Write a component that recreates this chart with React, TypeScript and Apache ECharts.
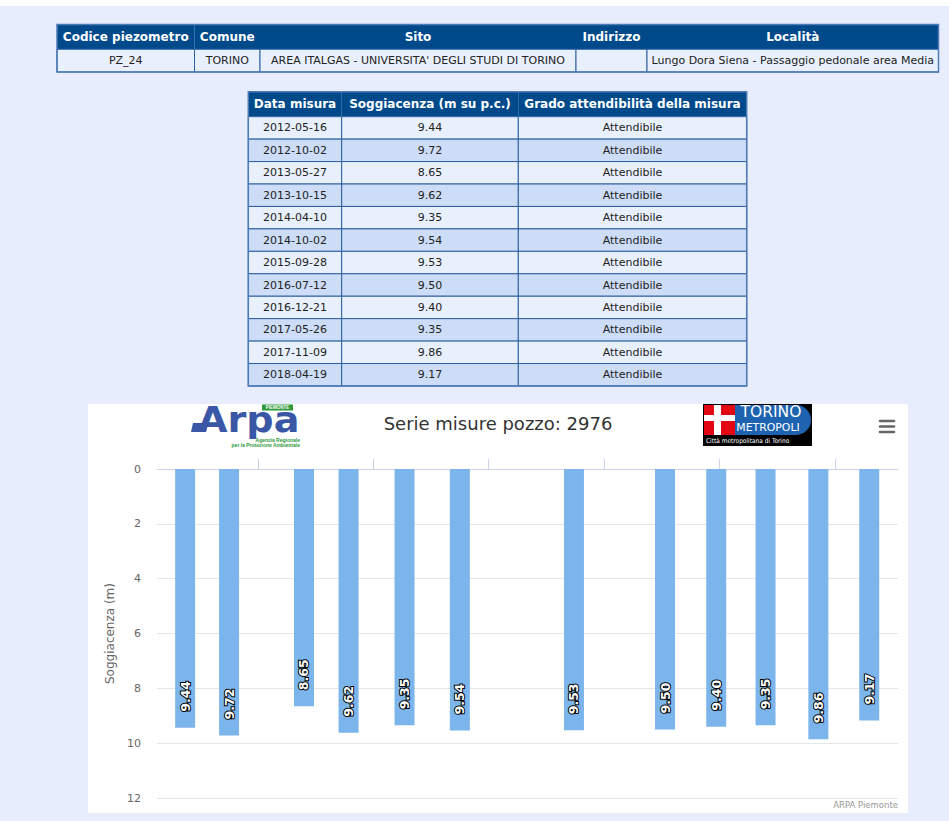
import React, { useEffect, useRef } from "react";
import * as echarts from "echarts";

// ---------- data ----------
const siteHeaders = ["Codice piezometro", "Comune", "Sito", "Indirizzo", "Località"];
const siteRow = ["PZ_24", "TORINO", "AREA ITALGAS - UNIVERSITA' DEGLI STUDI DI TORINO", "", "Lungo Dora Siena - Passaggio pedonale area Media"];

const measureHeaders = ["Data misura", "Soggiacenza (m su p.c.)", "Grado attendibilità della misura"];
const measureDates = [
  "2012-05-16", "2012-10-02", "2013-05-27", "2013-10-15", "2014-04-10", "2014-10-02",
  "2015-09-28", "2016-07-12", "2016-12-21", "2017-05-26", "2017-11-09", "2018-04-19",
];
const depths = [9.44, 9.72, 8.65, 9.62, 9.35, 9.54, 9.53, 9.5, 9.4, 9.35, 9.86, 9.17];
const reliability = [
  "Attendibile", "Attendibile", "Attendibile", "Attendibile", "Attendibile", "Attendibile",
  "Attendibile", "Attendibile", "Attendibile", "Attendibile", "Attendibile", "Attendibile",
];
const yearTicks = ["2013-01-01", "2014-01-01", "2015-01-01", "2016-01-01", "2017-01-01", "2018-01-01"];
const axisStart = "2012-02-17";
const axisEnd = "2018-07-19";
const chartTitle = "Serie misure pozzo: 2976";
const yAxisTitle = "Soggiacenza (m)";
const credits = "ARPA Piemonte";

// ---------- helpers ----------
function utc(s: string) {
  const [y, m, d] = s.split("-").map(Number);
  return Date.UTC(y, m - 1, d);
}

const FONT = '"DejaVu Sans", Verdana, sans-serif';
const PAGE_BG = "#E7EDFC";
const HEAD_BG = "#004A8C";
const ROW_LIGHT = "#E9F0FD";
const ROW_ALT = "#CDDDF8";
const CELL_BORDER = "#2B5F9E";
const OUTER_BORDER = "#4C7BB5";

function buildGraphics() {
  const els: any[] = [];
  const rect = (x: number, y: number, w: number, h: number, style: any, z = 1, extra: any = {}) =>
    els.push({ type: "rect", shape: { x, y, width: w, height: h, ...extra }, style, z, silent: true });
  const text = (x: number, y: number, str: string, font: string, fill: string, align = "center", vAlign = "middle", z = 5, more: any = {}) =>
    els.push({
      type: "text",
      x,
      y,
      style: { text: str, font, fill, align, verticalAlign: vAlign, textAlign: align, textVerticalAlign: vAlign },
      z,
      silent: true,
      ...more,
    });

  // page pieces
  rect(0, 0, 949, 6, { fill: "#ffffff" }, -10);
  rect(88, 404, 820, 409, { fill: "#ffffff" }, -10);

  // ---- top table ----
  const tc = [57, 194.5, 260, 576, 647, 938.5];
  const tTop = 24.5, tHead = 24.8, tRow = 22.7;
  for (let i = 0; i < siteHeaders.length; i++) {
    const x = tc[i], w = tc[i + 1] - tc[i];
    rect(x, tTop, w, tHead, { fill: HEAD_BG }, 1);
    text(x + w / 2, tTop + tHead / 2, siteHeaders[i], `bold 12px ${FONT}`, "#ffffff");
    rect(x, tTop + tHead, w, tRow, { fill: ROW_LIGHT, stroke: CELL_BORDER, lineWidth: 1 }, 1);
    text(x + w / 2, tTop + tHead + tRow / 2, siteRow[i], `11px ${FONT}`, "#222222");
  }
  rect(tc[0], tTop, tc[tc.length - 1] - tc[0], tHead + tRow, { fill: "none", stroke: OUTER_BORDER, lineWidth: 1.5 }, 2);

  // ---- measures table ----
  const mc = [248.3, 341.7, 518.3, 746.7];
  const mTop = 91.7, mHead = 25, mRow = 22.44;
  for (let i = 0; i < measureHeaders.length; i++) {
    const x = mc[i], w = mc[i + 1] - mc[i];
    rect(x, mTop, w, mHead, { fill: HEAD_BG }, 1);
    text(x + w / 2, mTop + mHead / 2, measureHeaders[i], `bold 12px ${FONT}`, "#ffffff");
  }
  for (let r = 0; r < measureDates.length; r++) {
    const cells = [measureDates[r], depths[r].toFixed(2), reliability[r]];
    const y = mTop + mHead + r * mRow;
    for (let i = 0; i < cells.length; i++) {
      const x = mc[i], w = mc[i + 1] - mc[i];
      rect(x, y, w, mRow, { fill: r % 2 === 0 ? ROW_LIGHT : ROW_ALT, stroke: CELL_BORDER, lineWidth: 1 }, 1);
      text(x + w / 2, y + mRow / 2, cells[i], `11px ${FONT}`, "#222222");
    }
  }
  rect(mc[0], mTop, mc[mc.length - 1] - mc[0], mHead + mRow * measureDates.length, { fill: "none", stroke: OUTER_BORDER, lineWidth: 1.5 }, 2);

  // ---- chart title ----
  text(498, 423, chartTitle, `18px ${FONT}`, "#333333");

  // ---- Arpa logo ----
  els.push({ type: "polygon", shape: { points: [[193, 423], [208, 423], [206, 432], [191, 432]] }, style: { fill: "#3A57A5" }, z: 5, silent: true });
  text(198, 420, "Arpa", `bold 36px ${FONT}`, "#3A57A5", "left", "middle", 5, { scaleX: 1.06 });
  rect(262, 404.5, 31, 6, { fill: "#2E9A3A" }, 6);
  text(277.5, 407.5, "PIEMONTE", 'bold 4.5px "Liberation Sans", Arial, sans-serif', "#ffffff", "center", "middle", 7);
  text(300, 440, "Agenzia Regionale", 'bold 5px "Liberation Sans", Arial, sans-serif', "#2E9A3A", "right", "middle");
  text(300, 445, "per la Protezione Ambientale", 'bold 5px "Liberation Sans", Arial, sans-serif', "#2E9A3A", "right", "middle");

  // ---- Torino Metropoli logo ----
  rect(703, 404, 109, 42, { fill: "#000000" }, 5);
  rect(730, 405, 81, 30, { fill: "#1E63B0" }, 6, { r: [0, 15, 15, 0] });
  rect(704, 405, 31, 30, { fill: "#E30613" }, 7);
  rect(714, 405, 7, 30, { fill: "#ffffff" }, 8);
  rect(704, 415, 31, 6, { fill: "#ffffff" }, 8);
  text(771, 412, "TORINO", `15px "DejaVu Sans Condensed", ${FONT}`, "#ffffff", "center", "middle", 9, { scaleX: 1.15 });
  text(768, 427.5, "METROPOLI", `11px "DejaVu Sans Condensed", ${FONT}`, "#ffffff", "center", "middle", 9, { scaleX: 1.1 });
  text(706, 440.5, "Città metropolitana di Torino", `6.5px "DejaVu Sans Condensed", ${FONT}`, "#ffffff", "left", "middle", 9);

  // ---- menu icon ----
  for (const y of [421, 426.5, 432]) {
    els.push({ type: "line", shape: { x1: 880, y1: y, x2: 894, y2: y }, style: { stroke: "#666666", lineWidth: 2.6, lineCap: "round" }, z: 5, silent: true });
  }

  // ---- credits ----
  text(898, 805, credits, `8.5px ${FONT}`, "#999999", "right", "middle");

  return els;
}

export default function App() {
  const ref = useRef<HTMLDivElement>(null);

  useEffect(() => {
    if (!ref.current) return;
    const chart = echarts.init(ref.current, undefined, { renderer: "svg" });
    const data = measureDates.map((d, i) => [utc(d), depths[i]]);
    chart.setOption({
      animation: false,
      useUTC: true,
      backgroundColor: PAGE_BG,
      textStyle: { fontFamily: FONT },
      grid: { left: 157, top: 469, width: 741, height: 329, containLabel: false },
      xAxis: {
        type: "value",
        position: "top",
        min: utc(axisStart),
        max: utc(axisEnd),
        axisLine: { show: true, onZero: false, lineStyle: { color: "#ccd6eb", width: 1 } },
        axisTick: { show: true, length: 10, lineStyle: { color: "#ccd6eb" }, customValues: yearTicks.map(utc) },
        axisLabel: { show: false },
        splitLine: { show: false },
      },
      yAxis: {
        type: "value",
        inverse: true,
        min: 0,
        max: 12,
        interval: 2,
        name: yAxisTitle,
        nameLocation: "middle",
        nameGap: 40,
        nameTextStyle: { color: "#666666", fontSize: 12, fontFamily: FONT },
        axisLine: { show: false },
        axisTick: { show: false },
        axisLabel: { color: "#666666", fontSize: 11, margin: 16, fontFamily: FONT },
        splitLine: { lineStyle: { color: "#e6e6e6" } },
      },
      series: [
        {
          type: "bar",
          data,
          barWidth: 20,
          itemStyle: { color: "#7cb5ec" },
          label: {
            show: true,
            position: "insideBottom",
            distance: 16,
            rotate: 90,
            align: "left",
            verticalAlign: "middle",
            formatter: (p: any) => Number(p.value[1]).toFixed(2),
            color: "#ffffff",
            fontWeight: "bold",
            fontSize: 12.5,
            fontFamily: FONT,
            textBorderColor: "#000000",
            textBorderWidth: 2,
          },
        },
      ],
      graphic: { elements: buildGraphics() },
    });
    return () => chart.dispose();
  }, []);

  return <div ref={ref} style={{ position: "absolute", left: 0, top: 0, width: 949, height: 821 }} />;
}
